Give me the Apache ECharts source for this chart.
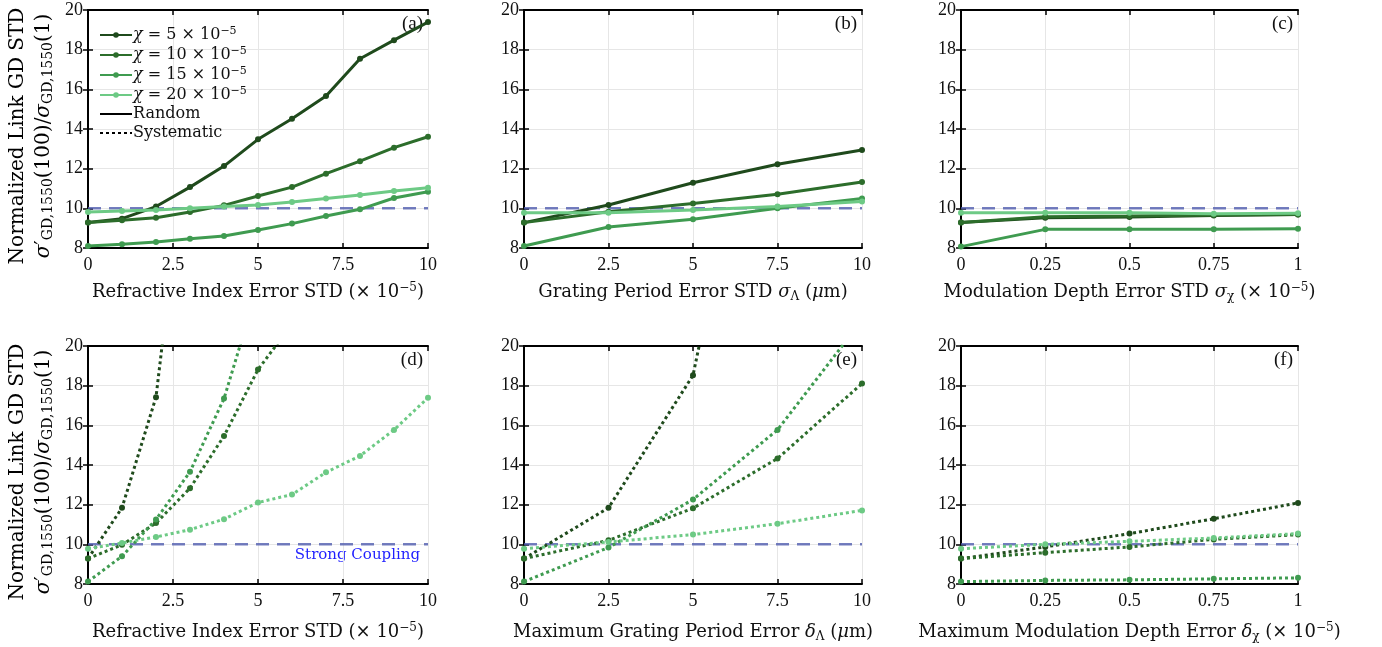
<!DOCTYPE html>
<html>
<head>
<meta charset="utf-8">
<script src="https://cdn.jsdelivr.net/npm/echarts@6/dist/echarts.min.js"></script>
<style>
  html, body { margin: 0; padding: 0; background: #fff; }
  #chart { width: 1382px; height: 647px; }
</style>
</head>
<body>
<div id="chart"></div>
<script>
// x positions per panel
const xIndexErr = [0, 1, 2, 3, 4, 5, 6, 7, 8, 9, 10]
const xPeriodErr = [0, 2.5, 5, 7.5, 10]
const xDepthErr = [0, 0.25, 0.5, 0.75, 1]
const yTicks = [8, 10, 12, 14, 16, 18, 20]
const chiNames = ['chi5', 'chi10', 'chi15', 'chi20']
const chiValues = ['5', '10', '15', '20']
const refLevel = 10

// (a) random refractive index error
const aChi5 = [9.28, 9.48, 10.09, 11.07, 12.13, 13.48, 14.52, 15.66, 17.54, 18.48, 19.39]
const aChi10 = [9.28, 9.40, 9.53, 9.81, 10.15, 10.62, 11.07, 11.75, 12.38, 13.06, 13.61]
const aChi15 = [8.10, 8.19, 8.30, 8.47, 8.61, 8.91, 9.23, 9.61, 9.95, 10.52, 10.84]
const aChi20 = [9.81, 9.86, 9.91, 10.0, 10.09, 10.17, 10.32, 10.49, 10.67, 10.87, 11.04]
// (b) random grating period error
const bChi5 = [9.28, 10.17, 11.29, 12.22, 12.94]
const bChi10 = [9.28, 9.83, 10.24, 10.71, 11.33]
const bChi15 = [8.10, 9.06, 9.45, 10.0, 10.50]
const bChi20 = [9.78, 9.78, 9.91, 10.09, 10.34]
// (c) random modulation depth error
const cChi5 = [9.28, 9.53, 9.56, 9.64, 9.69]
const cChi10 = [9.28, 9.58, 9.61, 9.67, 9.69]
const cChi15 = [8.07, 8.94, 8.94, 8.94, 8.97]
const cChi20 = [9.78, 9.78, 9.78, 9.73, 9.75]
// (d) systematic refractive index error
const dChi5 = [9.28, 11.84, 17.42, 31.9]
const dChi10 = [9.28, 9.98, 11.07, 12.83, 15.46, 18.81, 21.1]
const dChi15 = [8.12, 9.40, 11.25, 13.66, 17.35, 23.0]
const dChi20 = [9.78, 10.07, 10.37, 10.74, 11.27, 12.11, 12.51, 13.63, 14.46, 15.77, 17.39]
// (e) systematic grating period error
const eChi5 = [9.28, 11.84, 18.52, 39.0]
const eChi10 = [9.28, 10.20, 11.82, 14.33, 18.11]
const eChi15 = [8.12, 9.84, 12.26, 15.77, 21.3]
const eChi20 = [9.78, 10.12, 10.49, 11.04, 11.71]
// (f) systematic modulation depth error
const fChi5 = [9.28, 9.87, 10.54, 11.29, 12.09]
const fChi10 = [9.28, 9.58, 9.87, 10.25, 10.49]
const fChi15 = [8.12, 8.18, 8.21, 8.26, 8.31]
const fChi20 = [9.78, 10.0, 10.15, 10.32, 10.54]

const SERIF = '"Liberation Serif", serif'
const TSERIF = '"DejaVu Serif", serif'
const chiColors = ['#1f4a1c', '#2c6d2b', '#3f9b50', '#6dca85']
const refColor = 'rgba(80, 92, 175, 0.8)'

function makeRich (size, small, lift, lh) {
  return {
    i: { fontFamily: TSERIF, fontStyle: 'italic', fontSize: size, color: '#111', lineHeight: lh },
    n: { fontFamily: TSERIF, fontSize: size, color: '#111', lineHeight: lh },
    sup: { fontFamily: TSERIF, fontSize: small, color: '#111', verticalAlign: 'top', padding: [0, 0, lift, 0] },
    sub: { fontFamily: TSERIF, fontSize: small, color: '#111', verticalAlign: 'bottom', padding: [lift, 0, 0, 0] }
  }
}
const titleRich = makeRich(18, 12, 9)
const yRich = makeRich(20, 14, 9)
const legendRich = makeRich(16, 11, 5, 18)

const panels = [
  { x: xIndexErr, ys: [aChi5, aChi10, aChi15, aChi20], xmax: 10, step: 2.5, sys: false, tag: '(a)',
    name: '{n|Refractive Index Error STD (× 10}{sup|−5}{n|)}' },
  { x: xPeriodErr, ys: [bChi5, bChi10, bChi15, bChi20], xmax: 10, step: 2.5, sys: false, tag: '(b)',
    name: '{n|Grating Period Error STD }{i|σ}{sub|Λ}{n| (}{i|μ}{n|m)}' },
  { x: xDepthErr, ys: [cChi5, cChi10, cChi15, cChi20], xmax: 1, step: 0.25, sys: false, tag: '(c)',
    name: '{n|Modulation Depth Error STD }{i|σ}{sub|χ}{n| (× 10}{sup|−5}{n|)}' },
  { x: xIndexErr, ys: [dChi5, dChi10, dChi15, dChi20], xmax: 10, step: 2.5, sys: true, tag: '(d)',
    name: '{n|Refractive Index Error STD (× 10}{sup|−5}{n|)}' },
  { x: xPeriodErr, ys: [eChi5, eChi10, eChi15, eChi20], xmax: 10, step: 2.5, sys: true, tag: '(e)',
    name: '{n|Maximum Grating Period Error }{i|δ}{sub|Λ}{n| (}{i|μ}{n|m)}' },
  { x: xDepthErr, ys: [fChi5, fChi10, fChi15, fChi20], xmax: 1, step: 0.25, sys: true, tag: '(f)',
    name: '{n|Maximum Modulation Depth Error }{i|δ}{sub|χ}{n| (× 10}{sup|−5}{n|)}' }
]

const cols = [{ left: 88, width: 340 }, { left: 524, width: 338 }, { left: 961, width: 337 }]
const rows = [{ top: 10, height: 238 }, { top: 346, height: 238 }]

const grids = []
const xAxes = []
const yAxes = []
const series = []
const graphics = []

panels.forEach((p, k) => {
  const col = cols[k % 3]
  const row = rows[Math.floor(k / 3)]
  grids.push({ left: col.left, top: row.top, width: col.width, height: row.height })
  const tick = { show: true, inside: true, length: 5, lineStyle: { color: '#000', width: 1.5 } }
  const line = { show: true, lineStyle: { color: '#000', width: 2 } }
  xAxes.push({
    type: 'value', gridIndex: k, min: 0, max: p.xmax, interval: p.step, position: 'bottom',
    axisLine: line, axisTick: tick,
    splitLine: { show: true, lineStyle: { color: '#e6e6e6', width: 1 } },
    axisLabel: { fontFamily: SERIF, fontSize: 18, color: '#111', margin: 8 },
    name: p.name, nameLocation: 'middle', nameGap: k < 3 ? 34 : 38,
    nameTextStyle: { rich: titleRich }
  })
  xAxes.push({
    type: 'value', gridIndex: k, min: 0, max: p.xmax, interval: p.step, position: 'top',
    axisLine: line, axisTick: tick, axisLabel: { show: false }, splitLine: { show: false }
  })
  yAxes.push({
    type: 'value', gridIndex: k, min: yTicks[0], max: yTicks[yTicks.length - 1], interval: 2, position: 'left',
    axisLine: line, axisTick: tick,
    splitLine: { show: true, lineStyle: { color: '#e6e6e6', width: 1 } },
    axisLabel: { fontFamily: SERIF, fontSize: 18, color: '#111', margin: 5 }
  })
  yAxes.push({
    type: 'value', gridIndex: k, min: yTicks[0], max: yTicks[yTicks.length - 1], interval: 2, position: 'right',
    axisLine: line, axisTick: tick, axisLabel: { show: false }, splitLine: { show: false }
  })
  // strong coupling reference
  series.push({
    type: 'line', xAxisIndex: 2 * k, yAxisIndex: 2 * k, silent: true, symbol: 'none',
    data: [[0, refLevel], [p.xmax, refLevel]],
    lineStyle: { color: refColor, width: 2.5, type: [13, 8] }, z: 1
  })
  p.ys.forEach((ys, j) => {
    series.push({
      type: 'line', name: chiNames[j], xAxisIndex: 2 * k, yAxisIndex: 2 * k,
      data: ys.map((v, i) => [p.x[i], v]),
      color: chiColors[j], symbol: 'circle', symbolSize: 6,
      lineStyle: { width: 3, type: p.sys ? [3, 3] : 'solid' },
      clip: true, z: 2 + j
    })
  })
  graphics.push({
    type: 'text', x: col.left + col.width - 5, y: row.top + 14,
    style: { text: p.tag, font: '19px ' + SERIF, fill: '#111', align: 'right', verticalAlign: 'middle' }
  })
})

// legend-only series for line style meaning
series.push({ type: 'line', name: 'Random', xAxisIndex: 0, yAxisIndex: 0, data: [], symbol: 'none', color: '#000', lineStyle: { width: 3 } })
series.push({ type: 'line', name: 'Systematic', xAxisIndex: 0, yAxisIndex: 0, data: [], symbol: 'none', color: '#000', lineStyle: { width: 3, type: [3, 3] } })

// y-axis titles (two lines each row)
const yTitle1 = '{n|Normalized Link GD STD}'
const yTitle2 = '{i|σ}{n|′}{sub|GD,1550}{n|(100)/}{i|σ}{sub|GD,1550}{n|(1)}'
rows.forEach((row) => {
  const cy = row.top + row.height / 2 + 7
  graphics.push({ type: 'text', x: 18, y: cy, rotation: Math.PI / 2,
    style: { text: yTitle1, rich: yRich, align: 'center', verticalAlign: 'middle' } })
  graphics.push({ type: 'text', x: 44, y: cy, rotation: Math.PI / 2,
    style: { text: yTitle2, rich: yRich, align: 'center', verticalAlign: 'middle' } })
})

graphics.push({
  type: 'text', x: 420, y: 555,
  style: { text: 'Strong Coupling', font: '15px ' + TSERIF, fill: '#1f1fff', align: 'right', verticalAlign: 'middle' }
})

const legendData = chiNames.map((n) => ({ name: n })).concat([
  { name: 'Random', itemStyle: { opacity: 0 } },
  { name: 'Systematic', itemStyle: { opacity: 0 } }
])

const chart = echarts.init(document.getElementById('chart'))
chart.setOption({
  animation: false,
  backgroundColor: '#fff',
  grid: grids,
  xAxis: xAxes,
  yAxis: yAxes,
  legend: {
    data: legendData,
    orient: 'vertical', left: 94, top: 21, itemWidth: 32, itemHeight: 7, itemGap: 3,
    selectedMode: false,
    formatter: (name) => {
      const idx = chiNames.indexOf(name)
      if (idx >= 0) return '{i|χ}{n| = ' + chiValues[idx] + ' × 10}{sup|−5}'
      return '{n|' + name + '}'
    },
    textStyle: { rich: legendRich, padding: [0, 0, 0, -4] }
  },
  series: series,
  graphic: graphics
})
</script>
</body>
</html>
